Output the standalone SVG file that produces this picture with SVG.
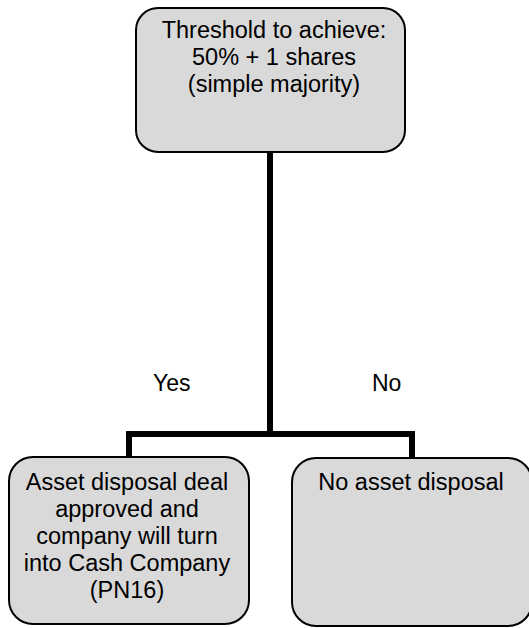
<svg xmlns="http://www.w3.org/2000/svg" width="529" height="628" viewBox="0 0 529 628">
<style>
.box{fill:#d9d9d9;stroke:#000;stroke-width:2}
.t{font-family:"Liberation Sans",Arial,sans-serif;font-size:23.5px;fill:#000;text-anchor:middle}
.lbl{font-family:"Liberation Sans",Arial,sans-serif;font-size:23px;fill:#000}
.conn{fill:none;stroke:#000;stroke-width:6}
</style>
<rect width="529" height="628" fill="#fff"/>
<g id="connectors">
<path class="conn" d="M270,153 V434"/>
<path class="conn" d="M129,457 V434 H412 V457"/>
</g>
<g id="threshold">
<rect class="box" x="136" y="8" width="269" height="144" rx="22"/>
<text class="t" x="274" y="38">Threshold to achieve:</text>
<text class="t" x="274" y="65">50% + 1 shares</text>
<text class="t" x="274" y="92">(simple majority)</text>
</g>
<g id="yes-label"><text class="lbl" x="153" y="391">Yes</text></g>
<g id="no-label"><text class="lbl" x="372" y="391">No</text></g>
<g id="approved">
<rect class="box" x="9" y="457" width="240" height="167" rx="24"/>
<text class="t" x="127" y="490">Asset disposal deal</text>
<text class="t" x="127" y="517">approved and</text>
<text class="t" x="127" y="544">company will turn</text>
<text class="t" x="127" y="571">into Cash Company</text>
<text class="t" x="127" y="598">(PN16)</text>
</g>
<g id="no-disposal">
<rect class="box" x="292" y="458" width="240" height="168" rx="24"/>
<text class="t" x="411" y="490">No asset disposal</text>
</g>
</svg>
